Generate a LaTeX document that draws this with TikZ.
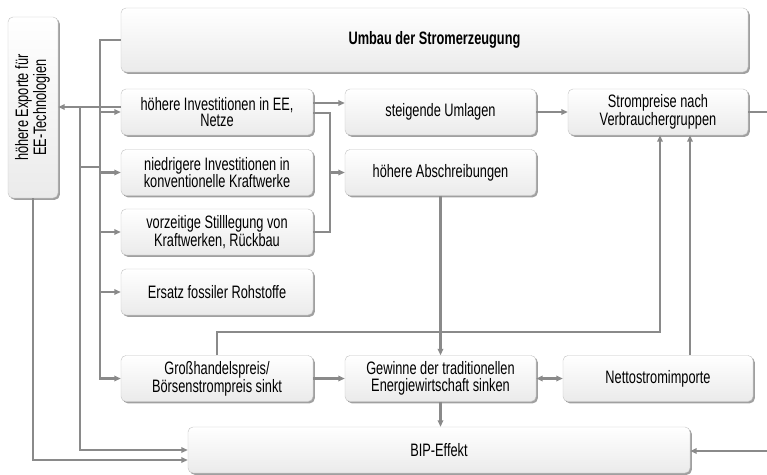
\documentclass[tikz,border=0pt]{standalone}
\usepackage{fontspec}
\setmainfont[FakeStretch=0.71]{Liberation Sans}
\usepackage{tikz}
\usetikzlibrary{arrows.meta,positioning,calc,shadows}
\definecolor{linegray}{HTML}{8A8A8A}
\definecolor{rim}{HTML}{C2C2C2}
\definecolor{shade}{HTML}{969696}
\tikzset{
  box/.style={draw=rim,rounded corners=5pt,top color=white,bottom color=black!8,
    align=center,inner sep=2pt,font=\fontsize{18}{16.5}\selectfont,
    drop shadow={shadow xshift=1.8pt,shadow yshift=-1.8pt,fill=shade,opacity=0.9}},
  wire/.style={draw=linegray,line width=2.2pt},
  arr/.style={wire,-{Triangle[length=6.5pt,width=5.5pt]}},
  dbl/.style={wire,{Triangle[length=6.5pt,width=5.5pt]}-{Triangle[length=6.5pt,width=5.5pt]}}
}

\begin{document}
\begin{tikzpicture}[x=1pt,y=-1pt]
\useasboundingbox (0,0) rectangle (767,474);
\node[box,minimum width=50pt,minimum height=181pt] (exp) at (33,107.5)
  {\rotatebox{90}{\begin{tabular}{@{}c@{}}höhere Exporte für\\EE-Technologien\end{tabular}}};
\node[box,minimum width=627pt,minimum height=64pt,font=\fontsize{18}{16.5}\selectfont\bfseries] (umbau) at (434.5,40) {Umbau der Stromerzeugung};
\node[box,minimum width=192pt,minimum height=46pt] (inv) at (217,112) {höhere Investitionen in EE,\\Netze};
\node[box,minimum width=192pt,minimum height=46pt] (nied) at (217,172.5) {niedrigere Investitionen in\\konventionelle Kraftwerke};
\node[box,minimum width=192pt,minimum height=46pt] (vorz) at (217,232) {vorzeitige Stilllegung von\\Kraftwerken, Rückbau};
\node[box,minimum width=192pt,minimum height=46pt] (ersatz) at (217,292) {Ersatz fossiler Rohstoffe};
\node[box,minimum width=192pt,minimum height=46pt] (gross) at (217,378.5) {Großhandelspreis/\\Börsenstrompreis sinkt};
\node[box,minimum width=191pt,minimum height=46pt] (uml) at (440.5,112) {steigende Umlagen};
\node[box,minimum width=191pt,minimum height=46pt] (abschr) at (440.5,172.5) {höhere Abschreibungen};
\node[box,minimum width=191pt,minimum height=46pt] (gew) at (440.5,378.5) {Gewinne der traditionellen\\Energiewirtschaft sinken};
\node[box,minimum width=180pt,minimum height=46pt] (strom) at (658,112) {Strompreise nach\\Verbraucher\-gruppen};
\node[box,minimum width=190pt,minimum height=46pt] (netto) at (658,378.5) {Nettostromimporte};
\node[box,minimum width=502pt,minimum height=46pt] (bip) at (439,450) {BIP-Effekt};

\coordinate (t1) at (100,40);
\coordinate (t2) at (80,107);
\coordinate (j) at (80,167);
\coordinate (b1) at (330,113);
\coordinate (k1) at (217,332);
\coordinate (rout) at (767,112);
\coordinate (rin) at (767,451);

\draw[arr] (umbau.west) -- (t1) |- (gross.west);
\foreach \n in {inv,nied,vorz,ersatz}
  \draw[arr] (t1 |- \n.west) -- (\n.west);
\draw[arr] ([yshift=5pt]inv.west) -- ([yshift=5pt]inv.west -| exp.east);
\draw[arr] (t2) |- (bip.west);
\draw[wire] (j) -- (j -| t1);
\draw[arr] (exp.south) |- ([yshift=-10pt]bip.west);

\draw[arr] ([yshift=9pt]inv.east) -- ([yshift=9pt]uml.west);
\draw[wire] (inv.east |- b1) -- (b1) |- (vorz.east);
\draw[arr] (b1 |- abschr.west) -- (abschr.west);
\draw[arr] (uml) -- (strom);
\draw[wire] (strom.east) -- (rout);
\draw[arr] (rin) -- (rin -| bip.east);

\draw[arr] (abschr.south) -- (gew.north);
\draw[arr] (gross.north) -- (k1) -| ([xshift=2pt]strom.south);
\draw[arr] ([xshift=32pt]netto.north) -- ([xshift=32pt]netto.north |- strom.south);
\draw[arr] (gross) -- (gew);
\draw[dbl] (gew) -- (netto);
\draw[arr] (gew.south) -- (gew.south |- bip.north);
\end{tikzpicture}
\end{document}
